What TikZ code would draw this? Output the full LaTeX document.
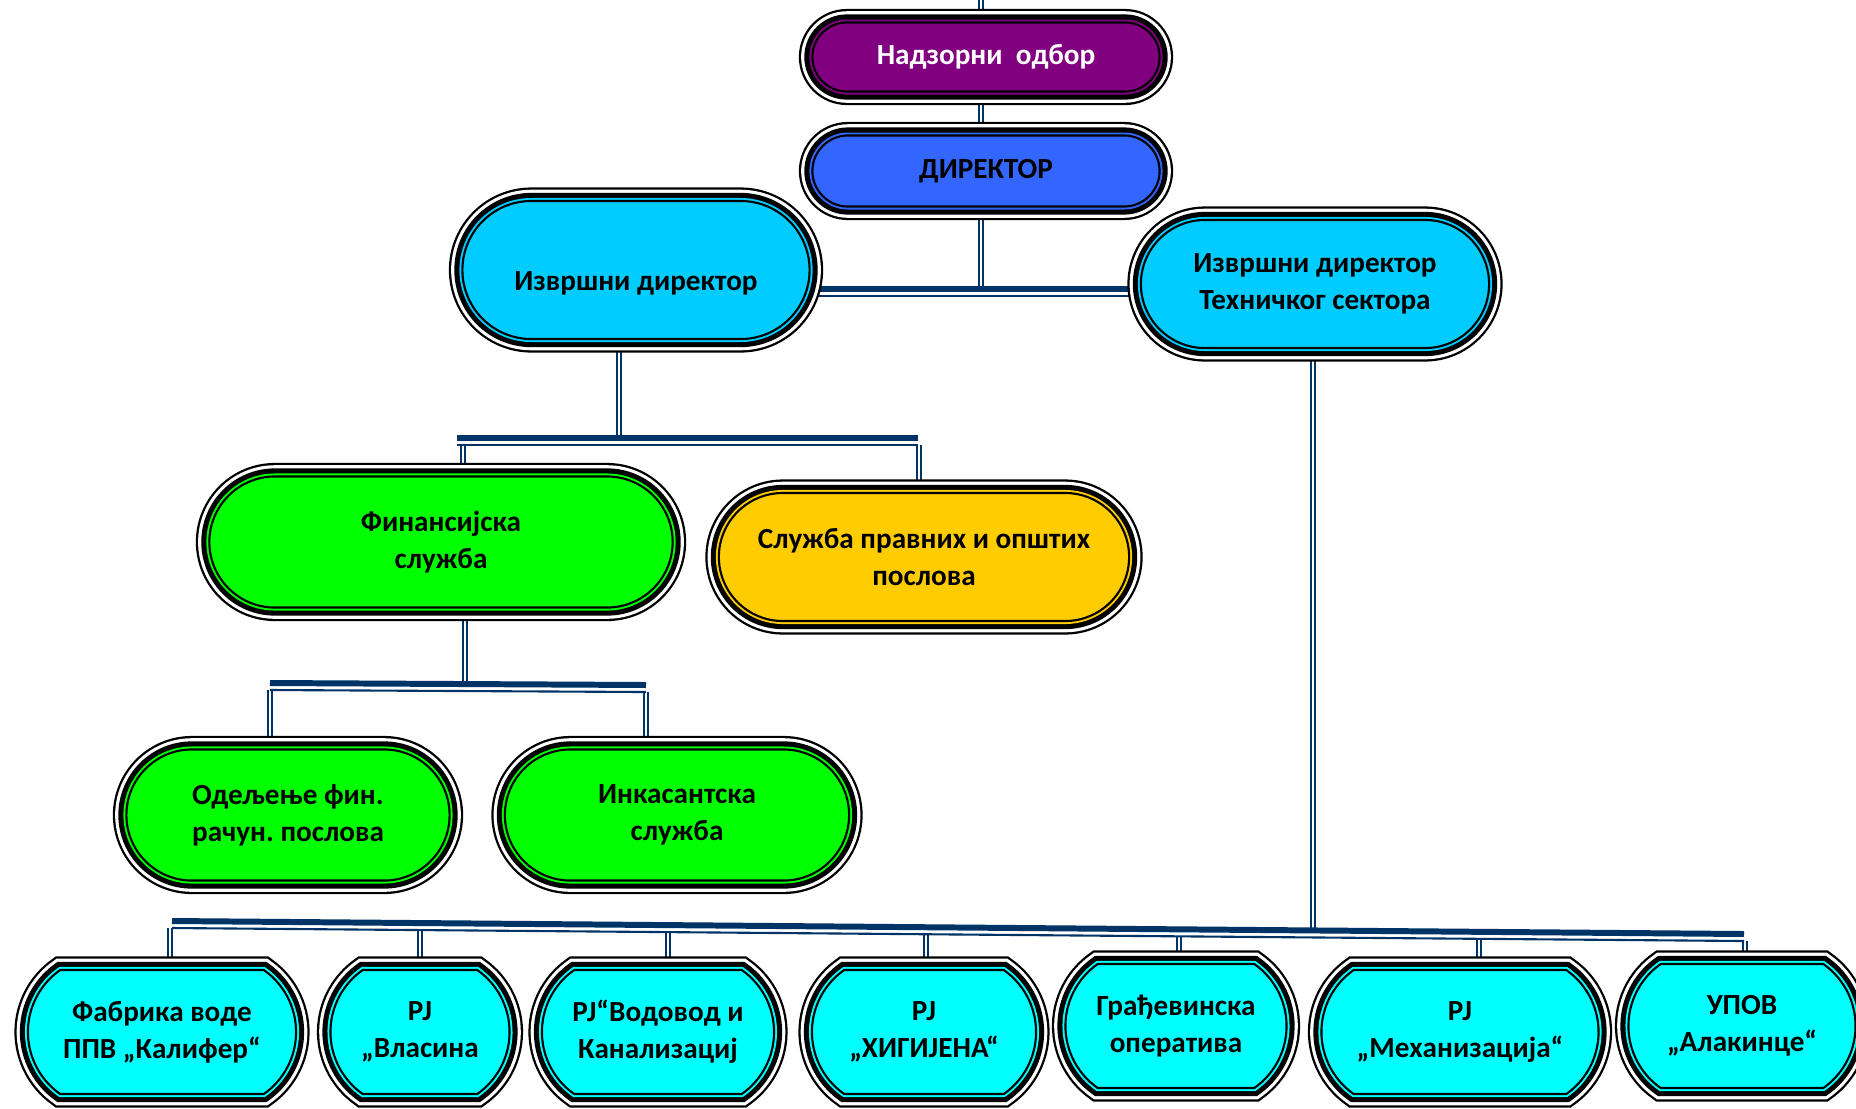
\documentclass[tikz,border=0pt]{standalone}
\usepackage{fontspec}
\setmainfont{Carlito}
\usetikzlibrary{shapes.misc,backgrounds}
\frenchspacing

\definecolor{navy}{HTML}{003366}
\definecolor{nadzor}{HTML}{800080}
\definecolor{direk}{HTML}{3366FF}
\definecolor{izvrs}{HTML}{00CCFF}
\definecolor{finan}{HTML}{00FF00}
\definecolor{pravn}{HTML}{FFCC00}
\definecolor{jedin}{HTML}{00FFFF}

\begin{document}
\begin{tikzpicture}[
        x=0.01cm,y=-0.01cm,
        font=\fontsize{8.3}{10.5}\selectfont\bfseries,
        box/.style={rounded rectangle,align=center,inner sep=0pt,
            fill=#1,draw=black,line width=0.6pt,
            preaction={draw=black,line width=7.7pt},
            preaction={draw=white,line width=6.4pt},
            preaction={draw=black,line width=4.6pt},
            preaction={draw=#1,line width=1.7pt}},
        unit/.style={box=jedin,rounded rectangle arc length=110,minimum height=1.24cm},
        link/.style={draw=navy,line width=0.6pt,double=white,double distance=0.6pt},
        bus/.style={draw=navy,line width=1.7pt,
            postaction={draw=navy,line width=0.6pt,transform canvas={yshift=-0.07cm}}}
    ]
    \useasboundingbox (0,0) rectangle (1856,1108);

    % management
    \node[box=nadzor,minimum width=3.47cm,minimum height=0.69cm,text=white] (nad) at (986,57) {Надзорни~ одбор};
    \node[box=direk,minimum width=3.47cm,minimum height=0.71cm] (dir) at (986,171) {ДИРЕКТОР};
    \node[box=izvrs,minimum width=3.47cm,minimum height=1.38cm,text height=13pt] (izv) at (636,270) {Извршни директор};
    \node[box=izvrs,minimum width=3.48cm,minimum height=1.28cm] (teh) at (1315,284) {Извршни директор\\Техничког сектора};

    % services
    \node[box=finan,minimum width=4.63cm,minimum height=1.31cm] (fin) at (441,542) {Финансијска\\служба};
    \node[box=pravn,minimum width=4.10cm,minimum height=1.28cm] (prav) at (924,557) {Служба правних и општих\\послова};
    \node[box=finan,minimum width=3.23cm,minimum height=1.31cm] (odel) at (288,815) {Одељење фин.\\рачун. послова};
    \node[box=finan,minimum width=3.44cm,minimum height=1.31cm] (ink) at (677,815) {Инкасантска\\служба};

    % units
    \node[unit,minimum width=2.68cm] (fab) at (162,1032) {Фабрика воде\\ППВ „Калифер“};
    \node[unit,minimum width=1.79cm] (vlas) at (420,1032) {РЈ\\„Власина};
    \node[unit,minimum width=2.32cm] (vodo) at (658,1032) {РЈ“Водовод и\\Канализациј};
    \node[unit,minimum width=2.24cm] (hig) at (924,1032) {РЈ\\„ХИГИЈЕНА“};
    \node[unit,minimum width=2.21cm] (grad) at (1176,1026) {Грађевинска\\оператива};
    \node[unit,minimum width=2.77cm] (meh) at (1460,1032) {РЈ\\„Механизација“};
    \node[unit,minimum width=2.27cm] (upov) at (1742,1026) {УПОВ\\„Алакинце“};

    \begin{scope}[on background layer]
        \coordinate (top) at (981,0);
        \coordinate (j1) at (981,289);
        \coordinate (p1) at (619,438);
        \coordinate (c1) at (463,445);
        \coordinate (c2) at (919,445);
        \coordinate (p2) at (465,684);
        \coordinate (c3) at (270,690);
        \coordinate (c4) at (646,692);
        \coordinate (p3) at (1313,930);
        \coordinate (d1) at (170,928);
        \coordinate (d2) at (420,930);
        \coordinate (d3) at (668,932);
        \coordinate (d4) at (926,934);
        \coordinate (d5) at (1179,936);
        \coordinate (d6) at (1479,939);
        \coordinate (d7) at (1745,941);

        \draw[link] (top) -- (top |- nad.north);
        \draw[link] (top |- nad.south) -- (top |- dir.north);
        \draw[link] (top |- dir.south) -- (j1);
        \draw[bus] (j1 -| izv.east) -- (j1 -| teh.west);

        \draw[link] (p1 |- izv.south) -- (p1);
        \draw[link] (c1) -- (c1 |- fin.north);
        \draw[link] (c2) -- (c2 |- prav.north);
        \draw[bus] (457,438) coordinate (b1l) -- (918,438) coordinate (b1r);

        \draw[link] (p2 |- fin.south) -- (p2);
        \draw[link] (c3) -- (c3 |- odel.north);
        \draw[link] (c4) -- (c4 |- ink.north);
        \draw[bus] (270,683) coordinate (b2l) -- (646,685) coordinate (b2r);

        \draw[link] (p3 |- teh.south) -- (p3);
        \draw[link] (d1) -- (d1 |- fab.north);
        \draw[link] (d2) -- (d2 |- vlas.north);
        \draw[link] (d3) -- (d3 |- vodo.north);
        \draw[link] (d4) -- (d4 |- hig.north);
        \draw[link] (d5) -- (d5 |- grad.north);
        \draw[link] (d6) -- (d6 |- meh.north);
        \draw[link] (d7) -- (d7 |- upov.north);
        \draw[bus] (172,921) coordinate (b3l) -- (1744,934) coordinate (b3r);
    \end{scope}
\end{tikzpicture}
\end{document}
